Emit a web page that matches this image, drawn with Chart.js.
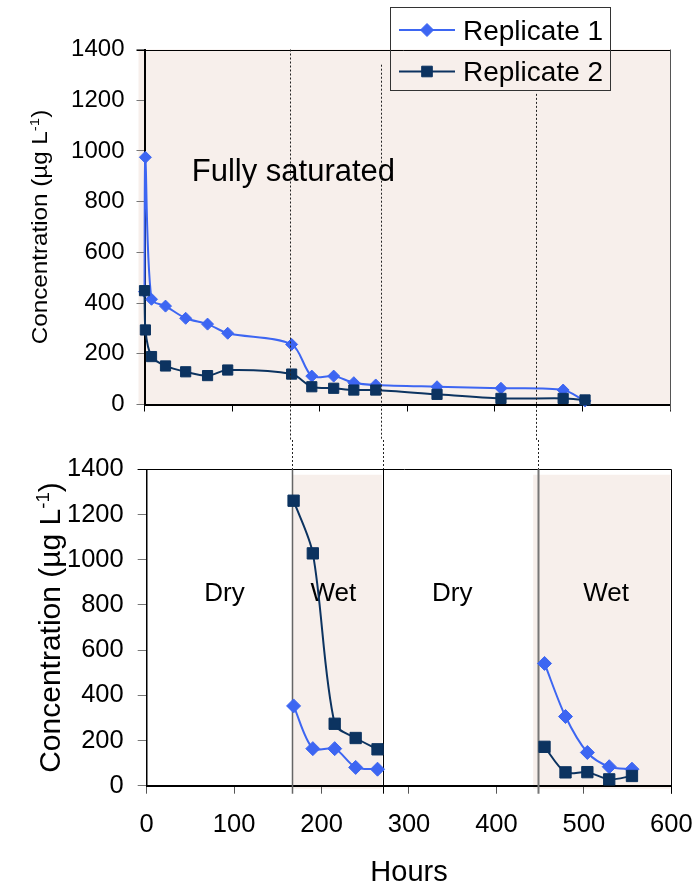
<!DOCTYPE html>
<html>
<head>
<meta charset="utf-8">
<script src="https://cdn.jsdelivr.net/npm/chart.js@4/dist/chart.umd.min.js"></script>
<style>
  html, body { margin: 0; padding: 0; background: #ffffff; }
  #wrap { position: relative; width: 696px; height: 889px; }
  #satChart { position: absolute; left: 0; top: 0; }
  #cycleChart { position: absolute; left: 0; top: 440px; }
</style>
</head>
<body>
<div id="wrap">
  <canvas id="satChart" width="696" height="440"></canvas>
  <canvas id="cycleChart" width="696" height="449"></canvas>
</div>
<script>
// ---- Data: sampling time (hours) and concentration (µg L-1) ----
// Fully saturated run
const satHours = [0, 1, 8, 24, 47, 72, 95, 168, 191, 216, 239, 264, 334, 407, 478, 503];
const satRep1  = [445, 975, 415, 388, 340, 317, 281, 237, 112, 112, 86, 77, 70, 64, 57, 14];
const satRep2  = [449, 294, 189, 152, 129, 114, 136, 120, 70, 64, 57, 57, 40, 24, 24, 18];

// Wet/dry cycling run: first and second wet periods
const wet1Hours = [168, 190, 215, 239, 264];
const wet1Rep1  = [353, 164, 164, 81, 73];
const wet1Rep2  = [1261, 1028, 274, 211, 161];
const wet2Hours = [455, 479, 504, 529, 555];
const wet2Rep1  = [541, 306, 147, 84, 73];
const wet2Rep2  = [172, 59, 60, 28, 43];

// Axis tick values
const hourTicks = [0, 100, 200, 300, 400, 500, 600];
const concTicks = [0, 200, 400, 600, 800, 1000, 1200, 1400];

// Phase boundaries (hours) and the wet periods in the cycling run
const boundaryHours = [166, 270, 447];
const boundaryTopConc = [1400, 1340, 1225];
const wetPeriods = [[166, 269], [442, 600]];
const phaseNames = ['Dry', 'Wet', 'Dry', 'Wet'];
const phaseLabelHours = [89, 213.5, 349.5, 525.5];

const seriesNames = ['Replicate 1', 'Replicate 2'];

// ---- Styling ----
const FONT = "'Liberation Sans', Arial, Helvetica, sans-serif";
const BLUE = '#3d66f2';
const NAVY = '#0c3360';
const SHADE = '#f7efeb';
Chart.defaults.font.family = FONT;
Chart.defaults.color = '#000000';

function pairs(xs, ys) { return xs.map((x, i) => ({ x: x, y: ys[i] })); }
function withGap(xa, ya, xb, yb) {
  const mid = (xa[xa.length - 1] + xb[0]) / 2;
  return pairs(xa, ya).concat([{ x: mid, y: null }], pairs(xb, yb));
}
const plainLabel = v => String(v);

function drawMarker(ctx, style, x, y, r, color) {
  ctx.save();
  ctx.fillStyle = color;
  ctx.strokeStyle = color;
  ctx.lineWidth = 1;
  ctx.beginPath();
  if (style === 'rectRot') {
    ctx.moveTo(x, y - r); ctx.lineTo(x + r, y); ctx.lineTo(x, y + r); ctx.lineTo(x - r, y);
  } else {
    const h = r * Math.SQRT1_2;
    ctx.rect(x - h, y - h, 2 * h, 2 * h);
  }
  ctx.closePath();
  ctx.fill();
  ctx.stroke();
  ctx.restore();
}

// Rotated y-axis title with a superscript "-1"
function yTitlePlugin(baselineX, size, stretch) {
  return {
    id: 'yTitleSup',
    afterDraw(chart) {
      const ctx = chart.ctx, a = chart.chartArea;
      const main = 'Concentration (µg L', sup = '-1', close = ')';
      const supSize = size * 0.62;
      ctx.save();
      ctx.translate(baselineX, (a.top + a.bottom) / 2);
      ctx.rotate(-Math.PI / 2);
      ctx.scale(stretch, 1);
      ctx.fillStyle = '#000';
      ctx.textBaseline = 'alphabetic';
      ctx.textAlign = 'left';
      ctx.font = size + 'px ' + FONT;
      const wMain = ctx.measureText(main).width;
      const wClose = ctx.measureText(close).width;
      ctx.font = supSize + 'px ' + FONT;
      const wSup = ctx.measureText(sup).width;
      let x = -(wMain + wSup + wClose) / 2;
      ctx.font = size + 'px ' + FONT;
      ctx.fillText(main, x, 0); x += wMain;
      ctx.font = supSize + 'px ' + FONT;
      ctx.fillText(sup, x, -size * 0.38); x += wSup;
      ctx.font = size + 'px ' + FONT;
      ctx.fillText(close, x, 0);
      ctx.restore();
    }
  };
}

function tickSetter(values) {
  return function (scale) { scale.ticks = values.map(v => ({ value: v })); };
}

// ---------------- Top chart: fully saturated ----------------
const satPlugin = {
  id: 'satDecor',
  beforeDraw(chart) {
    const ctx = chart.ctx, a = chart.chartArea;
    ctx.save();
    ctx.fillStyle = SHADE;
    ctx.fillRect(a.left - 6, a.top, a.right - a.left + 6, a.bottom - a.top);
    ctx.restore();
  },
  beforeDatasetsDraw(chart) {
    const ctx = chart.ctx, a = chart.chartArea;
    ctx.save();
    ctx.lineWidth = 1;
    ctx.strokeStyle = '#000';
    ctx.beginPath(); ctx.moveTo(a.left - 8, Math.round(a.top) + 0.5); ctx.lineTo(a.right, Math.round(a.top) + 0.5); ctx.stroke();
    ctx.strokeStyle = '#555';
    ctx.beginPath(); ctx.moveTo(Math.round(a.right) + 0.5, a.top); ctx.lineTo(Math.round(a.right) + 0.5, a.bottom + 6); ctx.stroke();
    // label
    const xs = chart.scales.x, ys = chart.scales.y;
    ctx.fillStyle = '#000';
    ctx.font = '31px ' + FONT;
    ctx.textAlign = 'center';
    ctx.textBaseline = 'alphabetic';
    ctx.fillText('Fully saturated', xs.getPixelForValue(170), ys.getPixelForValue(881));
    ctx.restore();
  },
  afterDatasetsDraw(chart) {
    const ctx = chart.ctx, xs = chart.scales.x, ys = chart.scales.y;
    ctx.save();
    ctx.strokeStyle = '#222';
    ctx.lineWidth = 1;
    ctx.setLineDash([2, 2]);
    boundaryHours.forEach((h, i) => {
      const px = Math.round(xs.getPixelForValue(h)) + 0.5;
      ctx.beginPath();
      ctx.moveTo(px, ys.getPixelForValue(boundaryTopConc[i]));
      ctx.lineTo(px, chart.height);
      ctx.stroke();
    });
    ctx.restore();
  },
  afterDraw(chart) {
    // legend
    const ctx = chart.ctx;
    ctx.save();
    ctx.strokeStyle = '#333';
    ctx.lineWidth = 1;
    ctx.strokeRect(390.5, 7.5, 220, 83);
    const rows = [30, 71.5];
    chart.data.datasets.forEach((ds, i) => {
      const y = rows[i];
      ctx.strokeStyle = ds.borderColor;
      ctx.lineWidth = 2;
      ctx.beginPath(); ctx.moveTo(399, y); ctx.lineTo(455, y); ctx.stroke();
      drawMarker(ctx, ds.pointStyle, 427, y, ds.pointStyle === 'rectRot' ? 6.5 : 7.5, ds.borderColor);
      ctx.fillStyle = '#000';
      ctx.font = '28px ' + FONT;
      ctx.textAlign = 'left';
      ctx.textBaseline = 'alphabetic';
      ctx.fillText(ds.label, 463, y + 9.5);
    });
    ctx.restore();
  }
};

new Chart(document.getElementById('satChart'), {
  type: 'line',
  data: {
    datasets: [
      { label: seriesNames[0], data: pairs(satHours, satRep1), borderColor: BLUE, backgroundColor: BLUE,
        pointStyle: 'rectRot', pointRadius: 6, pointBorderWidth: 1, borderWidth: 2, tension: 0.3, order: 1, clip: false },
      { label: seriesNames[1], data: pairs(satHours, satRep2), borderColor: NAVY, backgroundColor: NAVY,
        pointStyle: 'rect', pointRadius: 7.2, pointBorderWidth: 1, borderWidth: 2, tension: 0.3, order: 0, clip: false }
    ]
  },
  options: {
    responsive: false,
    animation: false,
    events: [],
    layout: { padding: { top: 49.5, right: 26, bottom: 0, left: 0 } },
    plugins: { legend: { display: false }, tooltip: { enabled: false } },
    scales: {
      x: {
        type: 'linear', min: 0, max: 600,
        afterBuildTicks: tickSetter(hourTicks),
        afterFit: s => { s.height = 35.5; s.paddingLeft = 0; s.paddingRight = 0; },
        ticks: { display: false },
        grid: { drawOnChartArea: false, drawTicks: true, tickLength: 7, tickColor: '#000', tickWidth: 1 },
        border: { display: true, color: '#000', width: 2 }
      },
      y: {
        min: 0, max: 1400,
        afterBuildTicks: tickSetter(concTicks),
        afterFit: s => { s.width = 144.5; },
        ticks: { font: { size: 24 }, color: '#000', padding: 12, callback: plainLabel },
        grid: { drawOnChartArea: false, drawTicks: true, tickLength: 8, tickColor: '#777', tickWidth: 1 },
        border: { display: true, color: '#000', width: 2 }
      }
    }
  },
  plugins: [satPlugin, yTitlePlugin(47, 22, 1.1)]
});

// ---------------- Bottom chart: wet/dry cycling ----------------
const cyclePlugin = {
  id: 'cycleDecor',
  beforeDraw(chart) {
    const ctx = chart.ctx, a = chart.chartArea, xs = chart.scales.x, ys = chart.scales.y;
    ctx.save();
    ctx.fillStyle = SHADE;
    const top = ys.getPixelForValue(1376);
    wetPeriods.forEach(([s, e]) => {
      const x0 = xs.getPixelForValue(s), x1 = Math.min(xs.getPixelForValue(e), a.right - 1);
      ctx.fillRect(x0, top, x1 - x0, a.bottom + 3 - top);
    });
    ctx.restore();
  },
  beforeDatasetsDraw(chart) {
    const ctx = chart.ctx, a = chart.chartArea, xs = chart.scales.x, ys = chart.scales.y;
    ctx.save();
    // plot frame (top and right)
    ctx.strokeStyle = '#000';
    ctx.lineWidth = 1;
    ctx.beginPath(); ctx.moveTo(a.left - 9, Math.round(a.top) + 0.5); ctx.lineTo(Math.round(a.right) + 0.5, Math.round(a.top) + 0.5);
    ctx.lineTo(Math.round(a.right) + 0.5, a.bottom + 8); ctx.stroke();
    // boundary lines: dotted above the plot, solid inside it
    const solidStyles = [['#666', 1.5], ['#000', 1], ['#777', 2]];
    boundaryHours.forEach((h, i) => {
      const px = Math.round(xs.getPixelForValue(h)) + 0.5;
      ctx.setLineDash([2, 2]);
      ctx.strokeStyle = '#222'; ctx.lineWidth = 1;
      ctx.beginPath(); ctx.moveTo(px, 0); ctx.lineTo(px, a.top); ctx.stroke();
      ctx.setLineDash([]);
      ctx.strokeStyle = solidStyles[i][0]; ctx.lineWidth = solidStyles[i][1];
      ctx.beginPath(); ctx.moveTo(px, a.top); ctx.lineTo(px, a.bottom + 8); ctx.stroke();
    });
    // phase labels
    ctx.fillStyle = '#000';
    ctx.font = '26px ' + FONT;
    ctx.textAlign = 'center';
    ctx.textBaseline = 'alphabetic';
    phaseNames.forEach((name, i) => {
      ctx.fillText(name, xs.getPixelForValue(phaseLabelHours[i]), ys.getPixelForValue(817));
    });
    ctx.restore();
  }
};

new Chart(document.getElementById('cycleChart'), {
  type: 'line',
  data: {
    datasets: [
      { label: seriesNames[0], data: withGap(wet1Hours, wet1Rep1, wet2Hours, wet2Rep1), borderColor: BLUE, backgroundColor: BLUE,
        pointStyle: 'rectRot', pointRadius: 7, pointBorderWidth: 1, borderWidth: 2, tension: 0.3, order: 1, clip: false, spanGaps: false },
      { label: seriesNames[1], data: withGap(wet1Hours, wet1Rep2, wet2Hours, wet2Rep2), borderColor: NAVY, backgroundColor: NAVY,
        pointStyle: 'rect', pointRadius: 8, pointBorderWidth: 1, borderWidth: 2, tension: 0.3, order: 0, clip: false, spanGaps: false }
    ]
  },
  options: {
    responsive: false,
    animation: false,
    events: [],
    layout: { padding: { top: 27.3, right: 24.7, bottom: 0, left: 0 } },
    plugins: { legend: { display: false }, tooltip: { enabled: false } },
    scales: {
      x: {
        type: 'linear', min: 0, max: 600,
        afterBuildTicks: tickSetter(hourTicks),
        afterFit: s => { s.height = 103.3; s.paddingLeft = 0; s.paddingRight = 0; },
        ticks: { font: { size: 25.5 }, color: '#000', padding: 16, maxRotation: 0, callback: plainLabel },
        grid: { drawOnChartArea: false, drawTicks: true, tickLength: 8, tickColor: '#555', tickWidth: 1 },
        border: { display: true, color: '#000', width: 2 },
        title: { display: true, text: 'Hours', font: { size: 29, lineHeight: 1.1 }, color: '#000', padding: { top: 0, bottom: 0 } }
      },
      y: {
        min: 0, max: 1400,
        afterBuildTicks: tickSetter(concTicks),
        afterFit: s => { s.width = 146.7; },
        ticks: { font: { size: 25.5 }, color: '#000', padding: 14, callback: plainLabel },
        grid: { drawOnChartArea: false, drawTicks: true, tickLength: 9, tickColor: '#777', tickWidth: 1 },
        border: { display: true, color: '#000', width: 1.5 }
      }
    }
  },
  plugins: [cyclePlugin, yTitlePlugin(60, 30, 1)]
});
</script>
</body>
</html>
